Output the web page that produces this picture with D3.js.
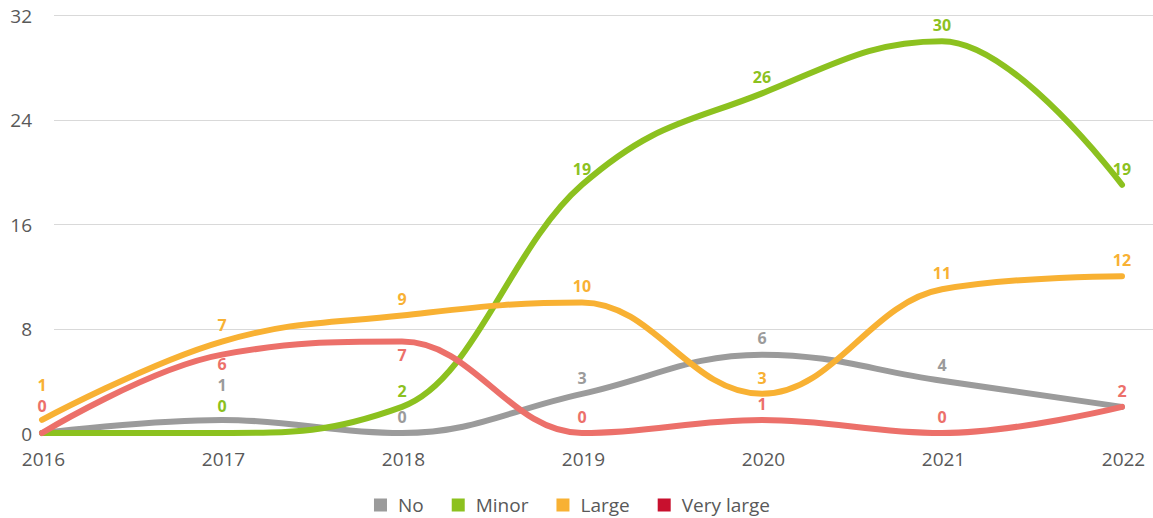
<!DOCTYPE html>
<html>
<head>
<meta charset="utf-8">
<script src="https://cdn.jsdelivr.net/npm/d3@7"></script>
<style>
  html, body { margin: 0; padding: 0; background: #fff; }
  svg { display: block; }
  text { font-family: "Open Sans", "Noto Sans", sans-serif; }
</style>
</head>
<body>
<svg id="chart" width="1153" height="518"></svg>
<script>
// ---- data ----
const years = [2016, 2017, 2018, 2019, 2020, 2021, 2022];
const seriesNames = ["No", "Minor", "Large", "Very large"];
const noValues = [0, 1, 0, 3, 6, 4, 2];
const minorValues = [0, 0, 2, 19, 26, 30, 19];
const largeValues = [1, 7, 9, 10, 3, 11, 12];
const veryLargeValues = [0, 6, 7, 0, 1, 0, 2];
const yTicks = [0, 8, 16, 24, 32];

// ---- styles ----
const lineColors = ["#9b9b9b", "#8cc11f", "#f8b133", "#ec706a"];
const legendColors = ["#9b9b9b", "#8cc11f", "#f8b133", "#c8102e"];
const textColor = "#595959";

const seriesValues = [noValues, minorValues, largeValues, veryLargeValues];
const series = seriesNames.map((name, i) => ({
  name, color: lineColors[i], legend: legendColors[i],
  points: years.map((y, j) => ({ year: y, value: seriesValues[i][j] }))
}));

const svg = d3.select("#chart");
const x = d3.scaleLinear().domain([2016, 2022]).range([42, 1122]);
const y = d3.scaleLinear().domain([0, 32]).range([433, 15]);

// gridlines (no zero line)
svg.append("g").selectAll("line")
  .data(yTicks.filter(t => t !== 0))
  .join("line")
  .attr("x1", 54).attr("x2", 1153)
  .attr("y1", d => Math.round(y(d)) + 0.5).attr("y2", d => Math.round(y(d)) + 0.5)
  .attr("stroke", "#d9d9d9").attr("stroke-width", 1);

// y axis
const yAxis = svg.append("g")
  .attr("transform", "translate(32,1)")
  .call(d3.axisLeft(y).tickValues(yTicks).tickSize(0).tickPadding(0).tickFormat(d3.format("d")));
yAxis.select(".domain").remove();
yAxis.selectAll("text")
  .attr("fill", textColor).style("font-size", "19px")
  .style("font-family", '"Open Sans", sans-serif');

// x axis
const xAxis = svg.append("g")
  .attr("transform", "translate(1,452)")
  .call(d3.axisBottom(x).tickValues(years).tickSize(0).tickPadding(0).tickFormat(d3.format("d")));
xAxis.select(".domain").remove();
xAxis.selectAll("text")
  .attr("fill", textColor).style("font-size", "19px")
  .style("font-family", '"Open Sans", sans-serif');

// spline path (smoothing 1.5 cubic bezier, no false extremes)
function splinePath(pts) {
  const P = pts.map(p => ({ x: x(p.year), y: y(p.value) }));
  const sm = 1.5, den = sm + 1;
  P.forEach((p, i) => {
    if (i === 0 || i === P.length - 1) { p.lx = p.x; p.ly = p.y; p.rx = p.x; p.ry = p.y; return; }
    const a = P[i - 1], b = P[i + 1];
    let lx = (sm * p.x + a.x) / den, ly = (sm * p.y + a.y) / den;
    let rx = (sm * p.x + b.x) / den, ry = (sm * p.y + b.y) / den;
    let corr = 0;
    if (rx !== lx) corr = ((ry - ly) * (rx - p.x)) / (rx - lx) + p.y - ry;
    ly += corr; ry += corr;
    if (ly > a.y && ly > p.y) { ly = Math.max(a.y, p.y); ry = 2 * p.y - ly; }
    else if (ly < a.y && ly < p.y) { ly = Math.min(a.y, p.y); ry = 2 * p.y - ly; }
    if (ry > b.y && ry > p.y) { ry = Math.max(b.y, p.y); ly = 2 * p.y - ry; }
    else if (ry < b.y && ry < p.y) { ry = Math.min(b.y, p.y); ly = 2 * p.y - ry; }
    Object.assign(p, { lx, ly, rx, ry });
  });
  const path = d3.path();
  path.moveTo(P[0].x, P[0].y);
  for (let i = 1; i < P.length; i++) {
    const a = P[i - 1], p = P[i];
    path.bezierCurveTo(a.rx, a.ry, p.lx, p.ly, p.x, p.y);
  }
  return path.toString();
}

svg.append("g").selectAll("path")
  .data(series)
  .join("path")
  .attr("d", s => splinePath(s.points))
  .attr("fill", "none")
  .attr("stroke", s => s.color)
  .attr("stroke-width", 6)
  .attr("stroke-linecap", "round")
  .attr("stroke-linejoin", "round");

// data labels with simple placement / collision handling
const labels = [];
years.forEach((yr, j) => {
  const col = series.map((s, i) => ({
    si: i, color: s.color, value: s.points[j].value,
    px: x(yr), py: y(s.points[j].value)
  }));
  col.forEach((l, i) => {
    l.hidden = col.some((o, k) => k > i && o.value === l.value);
  });
  col.forEach(l => {
    l.cy = l.py - 16;
    const others = col.filter(o => o !== l && o.py !== l.py && Math.abs(o.py - l.cy) < 12);
    if (others.length) {
      const below = l.py + 14;
      if (below <= y(0) - 10) l.cy = below;
      else {
        others.filter(o => o.py > l.cy).forEach(o => { l.cy = Math.min(l.cy, o.py - 14); });
      }
    }
  });
  const vis = col.filter(l => !l.hidden).sort((a, b) => b.cy - a.cy);
  for (let k = 1; k < vis.length; k++) {
    if (vis[k].cy > vis[k - 1].cy - 21) vis[k].cy = vis[k - 1].cy - 21;
  }
  vis.forEach(l => labels.push(l));
});

svg.append("g").selectAll("text")
  .data(labels)
  .join("text")
  .attr("x", d => d.px)
  .attr("y", d => d.cy)
  .attr("dy", "0.36em")
  .attr("text-anchor", "middle")
  .attr("fill", d => d.color)
  .style("font-size", "16px")
  .style("font-weight", "700")
  .text(d => d.value);

// legend
const legend = svg.append("g");
let lx = 0;
series.forEach(s => {
  const g = legend.append("g").attr("transform", `translate(${lx},0)`);
  g.append("rect").attr("x", 0).attr("y", -6.5).attr("width", 13).attr("height", 13).attr("fill", s.legend);
  const t = g.append("text").attr("x", 24).attr("y", 0).attr("dy", "0.35em")
    .attr("fill", textColor).style("font-size", "19px").text(s.name);
  const w = t.node().getComputedTextLength();
  lx += 24 + w + 28;
});
const totalW = lx - 28;
legend.attr("transform", `translate(${572 - totalW / 2},505)`);
</script>
</body>
</html>
